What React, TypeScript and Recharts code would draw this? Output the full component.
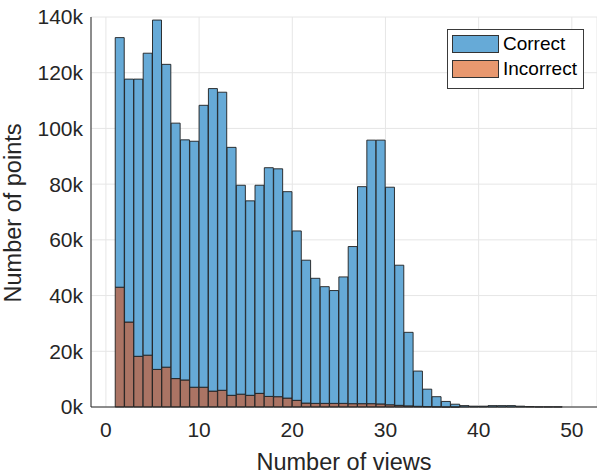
import React from "react";
import { ComposedChart, Bar, XAxis, YAxis, CartesianGrid, Legend } from "recharts";

// Histogram bins (left edge of each bin, width 1)
const views = [
  1, 2, 3, 4, 5, 6, 7, 8, 9, 10, 11, 12, 13, 14, 15, 16, 17, 18, 19, 20, 21, 22, 23, 24,
  25, 26, 27, 28, 29, 30, 31, 32, 33, 34, 35, 36, 37, 38, 39, 40, 41, 42, 43, 44, 45, 46, 47, 48,
];

const correct = [
  132600, 117700, 117700, 127000, 138900, 123000, 101900, 95900, 95400, 108300, 114300, 113000,
  93200, 79600, 74000, 79600, 85900, 85500, 77300, 63200, 52700, 46200, 43200, 41800,
  46700, 57600, 79100, 95800, 95800, 78900, 50900, 26800, 12900, 6400, 3700, 2000,
  1000, 500, 300, 300, 500, 500, 500, 300, 150, 50, 50, 50,
];

const incorrect = [
  43000, 30500, 18200, 18600, 13500, 14300, 10200, 9700, 7100, 7100, 5700, 6000,
  4200, 4600, 4200, 4900, 3800, 3700, 3200, 2400, 1400, 1300, 1300, 1300,
  1300, 1200, 1200, 1200, 1100, 800, 600, 400, 250, 150, 100, 50,
  50, 0, 0, 0, 0, 0, 0, 0, 0, 0, 0, 0,
];

const xTicks = [0, 10, 20, 30, 40, 50];
const yTicks = [0, 20000, 40000, 60000, 80000, 100000, 120000, 140000];

const seriesNames = ["Correct", "Incorrect"];
const legendColors = ["#66aad7", "#e8986f"];

const BLUE = "#66aad7";
const OVERLAP = "#ab7464";
const FONT = '"Liberation Sans", Arial, Helvetica, sans-serif';
const TEXT = "#262626";

// incorrect sits at the bottom, the rest of correct stacked on top (same look as overlapped histograms)
const table = views.map((v, i) => ({
  x: v + 0.5,
  incorrect: incorrect[i],
  rest: correct[i] - incorrect[i],
}));

const LegendBox = () => (
  <div
    style={{
      width: 135,
      height: 53,
      border: "1px solid #3a3a3a",
      background: "#fff",
      fontFamily: FONT,
      fontSize: 19,
      color: "#000",
      paddingTop: 5,
      boxSizing: "content-box",
    }}
  >
    {seriesNames.map((name, i) => (
      <div
        key={name}
        style={{ display: "flex", alignItems: "center", height: 18, marginBottom: 7, marginLeft: 4 }}
      >
        <div
          style={{
            width: 45,
            height: 16,
            background: legendColors[i],
            border: "1px solid #333",
            marginRight: 4,
          }}
        />
        <span style={{ lineHeight: "18px" }}>{name}</span>
      </div>
    ))}
  </div>
);

const XLabel = (props: any) => {
  const { viewBox } = props;
  return (
    <text
      x={viewBox.x + viewBox.width / 2}
      y={469.5}
      textAnchor="middle"
      fill={TEXT}
      fontFamily={FONT}
      fontSize={23.5}
    >
      Number of views
    </text>
  );
};

const YLabel = (props: any) => {
  const { viewBox } = props;
  const cx = 20.5;
  const cy = viewBox.y + viewBox.height / 2 + 1;
  return (
    <text
      x={cx}
      y={cy}
      transform={`rotate(-90 ${cx} ${cy})`}
      textAnchor="middle"
      fill={TEXT}
      fontFamily={FONT}
      fontSize={23.5}
    >
      Number of points
    </text>
  );
};

export default function App() {
  return (
    <div style={{ position: "absolute", left: 0, top: 0, background: "#fff" }}>
      <ComposedChart
        width={597}
        height={473}
        data={table}
        margin={{ top: 17, right: 0, bottom: 0, left: 0 }}
        barCategoryGap={0}
        barGap={0}
      >
        <CartesianGrid stroke="#e6e6e6" strokeWidth={1} />
        <XAxis
          dataKey="x"
          type="number"
          domain={[-1.6, 52.7]}
          ticks={xTicks}
          allowDataOverflow
          height={66}
          stroke={TEXT}
          tickLine={false}
          tickSize={0}
          tickMargin={15}
          tick={{ fill: TEXT, fontFamily: FONT, fontSize: 21 }}
          label={<XLabel />}
        />
        <YAxis
          type="number"
          domain={[0, 140000]}
          ticks={yTicks}
          width={91}
          stroke={TEXT}
          tickLine={false}
          tickSize={0}
          tickMargin={8}
          tickFormatter={(v: number) => `${v / 1000}k`}
          tick={{ fill: TEXT, fontFamily: FONT, fontSize: 21 }}
          label={<YLabel />}
        />
        <Legend
          layout="vertical"
          align="center"
          verticalAlign="middle"
          wrapperStyle={{ left: 447, top: 29, width: 137 }}
          content={() => <LegendBox />}
        />
        <Bar
          dataKey="incorrect"
          name="Incorrect"
          stackId="h"
          fill={OVERLAP}
          stroke="#1e1e1e"
          strokeWidth={0.9}
          isAnimationActive={false}
        />
        <Bar
          dataKey="rest"
          name="Correct"
          stackId="h"
          fill={BLUE}
          stroke="#1e1e1e"
          strokeWidth={0.9}
          isAnimationActive={false}
        />
      </ComposedChart>
    </div>
  );
}
